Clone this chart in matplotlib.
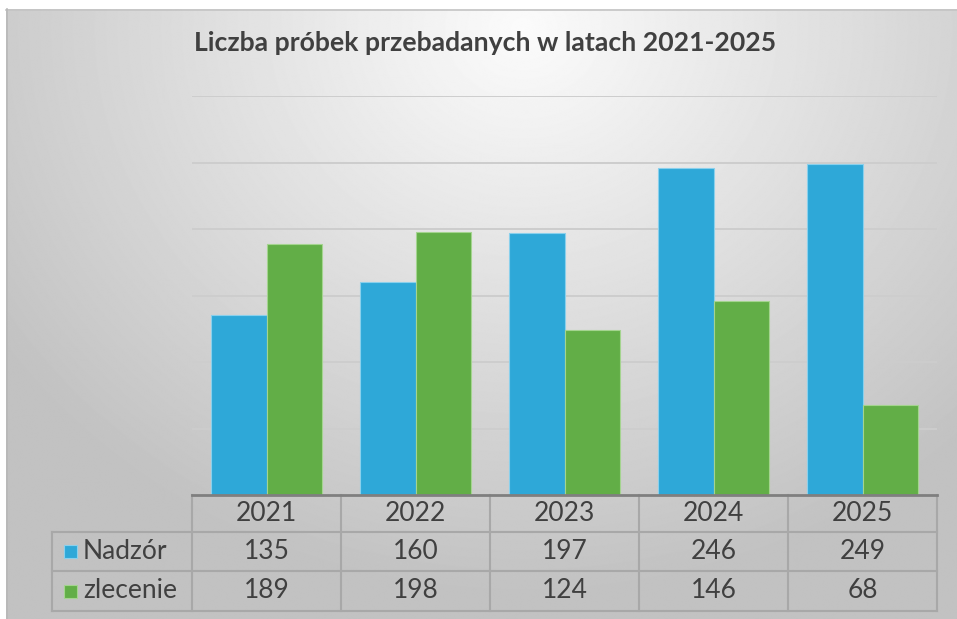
import numpy as np
import matplotlib
matplotlib.use("Agg")
import matplotlib.pyplot as plt
import matplotlib.patches as patches

plt.rcParams['font.family'] = ['Lato', 'DejaVu Sans']

title = "Liczba próbek przebadanych w latach 2021-2025"
years = ["2021", "2022", "2023", "2024", "2025"]
series_names = ["Nadzór", "zlecenie"]
nadzor = [135, 160, 197, 246, 249]
zlecenie = [189, 198, 124, 146, 68]

blue = '#2ea8d8'
green = '#62ae47'
blue_edge = '#8ad0ec'
green_edge = '#a4d48f'
grid_color = '#cdcdcd'
line_color = '#a8a8a8'
text_color = '#404040'

W, H = 957, 619
fig = plt.figure(figsize=(W / 100, H / 100), dpi=100)

# background: white page + gray radial gradient chart area
bg = fig.add_axes([0, 0, 1, 1], zorder=0)
bg.set_xlim(0, W)
bg.set_ylim(H, 0)
bg.axis('off')
yy, xx = np.mgrid[0:H, 0:W]
r = np.sqrt(((xx - 520) / 620.0) ** 2 + ((yy - 20) / 560.0) ** 2)
shade = np.clip(0.985 - 0.22 * r, 0.76, 0.985)
bg.imshow(shade, cmap='gray', vmin=0, vmax=1, extent=(6, W, H, 9), aspect='auto')
bg.plot([6, W], [9.5, 9.5], color='#c4c4c4', lw=1.2)
bg.plot([6.5, 6.5], [9, H], color='#b8b8b8', lw=1.2)

# plot area in pixels
px_left, px_right = 192, 937
px_top, px_bottom = 96, 495
ax = fig.add_axes([px_left / W, 1 - px_bottom / H, (px_right - px_left) / W, (px_bottom - px_top) / H],
                  zorder=1)
ax.patch.set_alpha(0)
x = np.arange(len(years))
bw = 0.375
ax.bar(x - bw / 2, nadzor, bw, color=blue, edgecolor=blue_edge, linewidth=0.8, zorder=3)
ax.bar(x + bw / 2, zlecenie, bw, color=green, edgecolor=green_edge, linewidth=0.8, zorder=3)
ax.set_xlim(-0.5, len(years) - 0.5)
ax.set_ylim(0, 300)
ax.set_yticks(np.arange(50, 301, 50))
ax.yaxis.grid(True, color=grid_color, lw=1.4, zorder=0)
ax.set_xticks([])
ax.tick_params(left=False, labelleft=False)
for s in ['top', 'right', 'left', 'bottom']:
    ax.spines[s].set_visible(False)

# overlay for title and data table
ov = fig.add_axes([0, 0, 1, 1], zorder=2)
ov.set_xlim(0, W)
ov.set_ylim(H, 0)
ov.axis('off')
ov.patch.set_alpha(0)

ov.text(485, 43, title, ha='center', va='center', fontsize=19.2, fontweight='bold', color=text_color)

colw = (px_right - px_left) / len(years)
row_y = [495, 532, 571, 611]
label_left = 52

# axis line
ov.plot([px_left, px_right], [495, 495], color='#7f7f7f', lw=2, zorder=3)
for yv in row_y[1:]:
    ov.plot([label_left, px_right], [yv, yv], color=line_color, lw=1.5)
for i in range(len(years) + 1):
    xv = px_left + i * colw
    ov.plot([xv, xv], [row_y[0], row_y[-1]], color=line_color, lw=1.5)
ov.plot([label_left, label_left], [row_y[1], row_y[-1]], color=line_color, lw=1.5)

fs = 19
for i, yr in enumerate(years):
    cx = px_left + (i + 0.5) * colw
    ov.text(cx, (row_y[0] + row_y[1]) / 2, yr, ha='center', va='center', fontsize=fs, color=text_color)
    ov.text(cx, (row_y[1] + row_y[2]) / 2, str(nadzor[i]), ha='center', va='center', fontsize=fs,
            color=text_color)
    ov.text(cx, (row_y[2] + row_y[3]) / 2, str(zlecenie[i]), ha='center', va='center', fontsize=fs,
            color=text_color)

for k, (name, c, ec) in enumerate(zip(series_names, [blue, green], [blue_edge, green_edge])):
    cy = (row_y[k + 1] + row_y[k + 2]) / 2
    ov.add_patch(patches.Rectangle((64, cy - 6.5), 13, 13, facecolor=c, edgecolor=ec, lw=0.8))
    ov.text(83, cy, name, ha='left', va='center', fontsize=fs, color=text_color)

fig.savefig('out.png', dpi=100)
